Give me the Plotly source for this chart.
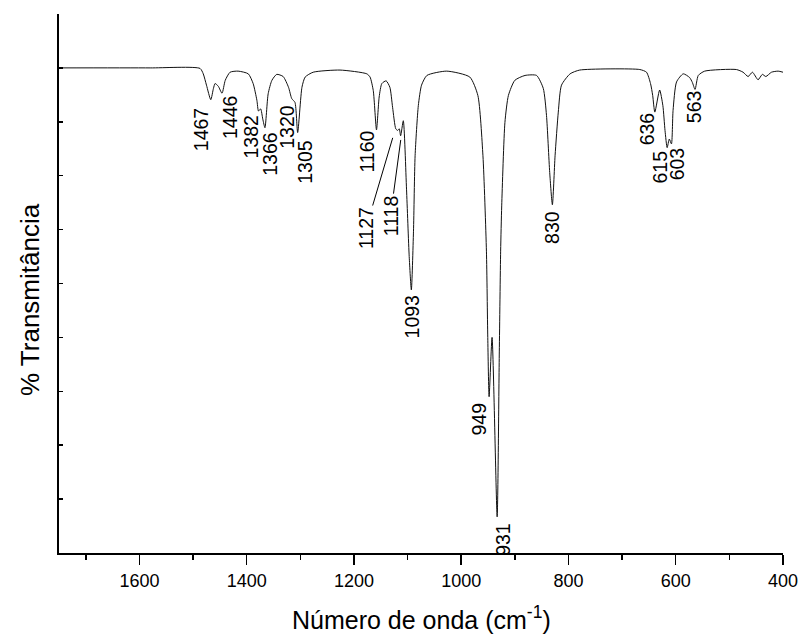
import numpy as np
import plotly.graph_objects as go

# Wavenumber (cm-1) and transmittance (%)
wavenumber = [1750, 1580, 1487, 1481, 1475, 1467, 1462, 1459, 1453, 1446,
              1440, 1431, 1416, 1397, 1388, 1381, 1378, 1374, 1370, 1366,
              1360, 1353, 1344, 1332, 1322, 1316, 1310, 1305, 1297, 1291,
              1276, 1226, 1176, 1170, 1164, 1158, 1153, 1148, 1140, 1133,
              1128, 1122, 1118.5, 1115.5, 1113, 1108, 1102, 1097, 1093, 1089,
              1086, 1080, 1074, 1064, 1027, 984, 969, 959.5, 953, 950.5,
              948, 942.5, 933, 929, 926.5, 924.5, 918.5, 912, 900, 881,
              859.5, 847, 841, 835, 830, 825, 819, 813, 797, 779,
              667, 654.5, 647, 643, 639, 630, 624, 620, 616, 612,
              608, 605, 598.5, 586, 574, 569, 564, 558, 546, 487,
              474.5, 465, 457, 446.5, 438.5, 432, 421.5, 409, 400]
transmittance = [90.0, 90.0, 89.9, 88.9, 86.8, 84.1, 86.2, 87.1, 86.6, 85.3,
                 87.7, 89.2, 89.4, 88.9, 87.1, 84.0, 82.0, 82.4, 80.5, 78.9,
                 85.2, 87.7, 88.8, 88.4, 86.4, 84.3, 83.6, 78.0, 86.4, 88.3,
                 89.2, 89.6, 88.9, 88.3, 85.8, 78.5, 84.6, 87.1, 87.6, 86.4,
                 82.7, 78.7, 78.4, 78.7, 77.4, 80.2, 67.5, 55.0, 48.8, 59.7,
                 73.7, 83.0, 86.8, 88.6, 89.4, 88.3, 84.9, 73.7, 56.0, 40.0,
                 29.0, 40.0, 6.7, 37.3, 56.0, 64.4, 79.9, 84.9, 87.7, 88.6,
                 88.6, 86.2, 81.2, 70.6, 64.6, 73.7, 81.8, 86.8, 88.9, 89.6,
                 89.7, 89.2, 87.1, 84.9, 81.8, 85.9, 83.0, 78.4, 75.2, 76.8,
                 75.9, 82.1, 87.4, 88.9, 88.2, 87.3, 86.0, 88.6, 89.4, 89.7,
                 89.2, 88.4, 89.2, 87.8, 88.8, 88.4, 89.2, 89.4, 89.2]

# Peak labels (cm-1)
peak_labels = [1467, 1446, 1382, 1366, 1320, 1305, 1160, 1127, 1118, 1093,
               949, 931, 830, 636, 615, 603, 563]

x_tick_vals = [1600, 1400, 1200, 1000, 800, 600, 400]

x_title = "Número de onda (cm<sup>-1</sup>)"
y_title = "% Transmitância"

# label layout: pixel offsets of text centre from the peak point
label_style = {
    1467: dict(xshift=-10.1, yshift=-29.8),
    1446: dict(xshift=8.1, yshift=-24.7),
    1382: dict(xshift=-5.8, yshift=-39.1),
    1366: dict(xshift=4.7, yshift=-26.4),
    1320: dict(xshift=-2.8, yshift=-35.9),
    1305: dict(xshift=7.9, yshift=-29.6),
    1160: dict(xshift=-7.9, yshift=-35.3),
    1127: dict(xshift=-0.4, yshift=-27.0, ax=-26.7, ay=90.2),
    1118: dict(xshift=2.8, yshift=-9.8, ax=-10.2, ay=75.7),
    1093: dict(xshift=1.1, yshift=-27.0),
    949: dict(xshift=-9.2, yshift=-46.2),
    931: dict(xshift=5.2, yshift=-105.0),
    830: dict(xshift=-1.0, yshift=-22.7),
    636: dict(xshift=-9.1, yshift=-24.3),
    615: dict(xshift=-7.4, yshift=-21.7),
    603: dict(xshift=3.2, yshift=-62.3),
    563: dict(xshift=-1.3, yshift=-19.8),
}

FONT = "Liberation Sans, Arial, sans-serif"
L, R, T, B = 59, 23, 14, 85
W, H = 806, 638
PW, PH = W - L - R, H - T - B

fig = go.Figure()
fig.add_trace(go.Scatter(
    x=wavenumber, y=transmittance, mode="lines",
    line=dict(color="#111111", width=1, shape="spline", smoothing=0.6),
    hoverinfo="skip", showlegend=False,
))

wn_asc = np.array(wavenumber[::-1], dtype=float)
tr_asc = np.array(transmittance[::-1], dtype=float)

annotations = []
for p in peak_labels:
    st = label_style[p]
    yv = float(np.interp(p, wn_asc, tr_asc))
    a = dict(x=p, y=yv, xref="x", yref="y", text=str(p), textangle=-90,
             font=dict(family=FONT, size=19.5, color="black"),
             xshift=st["xshift"], yshift=st["yshift"])
    if "ax" in st:
        a.update(showarrow=True, arrowhead=0, arrowwidth=1, arrowcolor="black",
                 ax=st["ax"], ay=st["ay"], axref="pixel", ayref="pixel")
    else:
        a.update(showarrow=False, xanchor="center", yanchor="middle")
    annotations.append(a)

# axis titles as paper annotations (fixed placement)
annotations.append(dict(
    x=0.5, y=-(618 - (T + PH)) / PH, xref="paper", yref="paper",
    text=x_title, showarrow=False, xanchor="center", yanchor="middle",
    font=dict(family=FONT, size=25, color="black")))
annotations.append(dict(
    x=(30 - L) / PW, y=1 - (300 - T) / PH, xref="paper", yref="paper",
    text=y_title, showarrow=False, xanchor="center", yanchor="middle",
    textangle=-90, font=dict(family=FONT, size=26, color="black")))

fig.update_layout(
    width=W, height=H,
    margin=dict(l=L, r=R, t=T, b=B, autoexpand=False),
    paper_bgcolor="white", plot_bgcolor="white",
    font=dict(family=FONT, color="black"),
    annotations=annotations,
    showlegend=False,
)
fig.update_xaxes(
    range=[1750, 400], tickvals=x_tick_vals, ticktext=[str(v) for v in x_tick_vals],
    ticks="outside", ticklen=10, tickwidth=1.5, tickcolor="black",
    minor=dict(ticks="outside", ticklen=5, tickwidth=1.5, tickcolor="black",
               dtick=100, tick0=400, showgrid=False),
    showline=True, linecolor="black", linewidth=2, showgrid=False, zeroline=False,
    tickfont=dict(family=FONT, size=18, color="black"),
    automargin=False,
)
fig.update_yaxes(
    range=[0, 100], dtick=10, tick0=0, ticks="inside", ticklen=4, tickwidth=1.5,
    tickcolor="black", showticklabels=False,
    showline=True, linecolor="black", linewidth=2, showgrid=False, zeroline=False,
    automargin=False,
)

fig.write_html(
    "out.html",
    config={"displayModeBar": False, "staticPlot": True},
    post_script="document.body.style.margin='0';document.body.style.overflow='hidden';",
)
